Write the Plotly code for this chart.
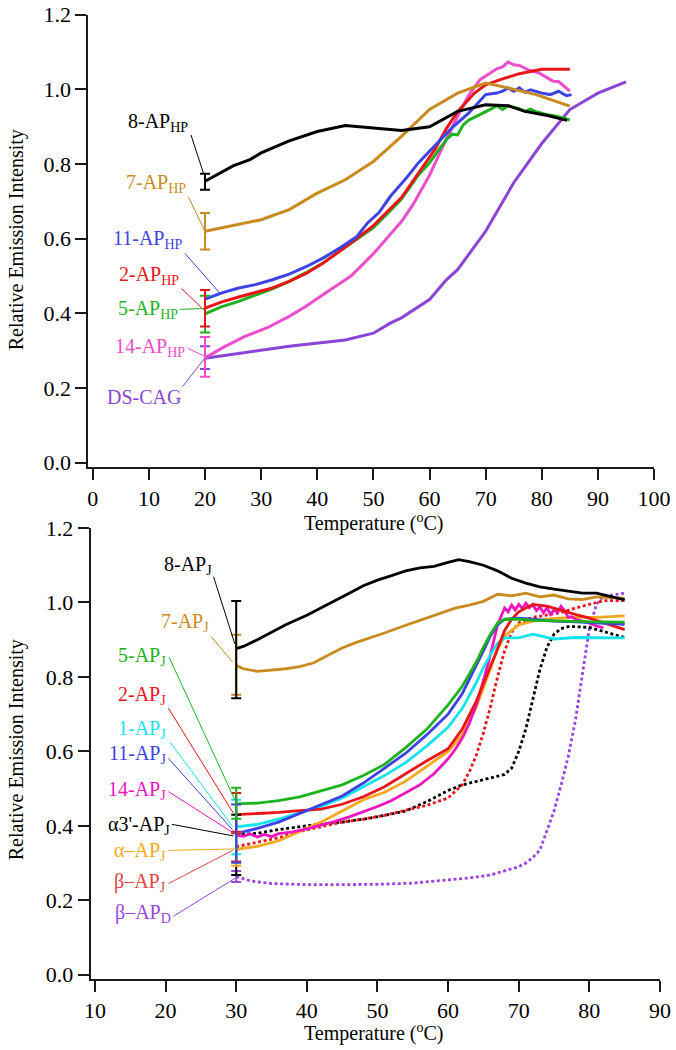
import plotly.graph_objects as go

# ---------------- Top panel data (hairpins) ----------------
t_8hp = [20, 25, 28, 30, 35, 40, 45, 50, 55, 60, 65, 70, 74, 77, 81, 84.5]
v_8hp = [0.754, 0.795, 0.812, 0.83, 0.862, 0.887, 0.903, 0.897, 0.89, 0.90, 0.941, 0.959, 0.956, 0.941, 0.93, 0.917]

t_7hp = [20, 25, 30, 35, 40, 45, 50, 55, 60, 65, 70, 74, 79, 85]
v_7hp = [0.62, 0.636, 0.651, 0.678, 0.722, 0.758, 0.807, 0.874, 0.946, 0.99, 1.017, 1.004, 0.986, 0.955]

t_dscag = [20, 35, 45, 50, 53, 55, 60, 63, 65, 70, 75, 80, 85, 90, 95]
v_dscag = [0.28, 0.312, 0.329, 0.347, 0.374, 0.388, 0.437, 0.49, 0.517, 0.62, 0.75, 0.855, 0.946, 0.99, 1.02]

t_2hp = [20, 23, 26, 29, 32, 35, 38, 41, 44, 47, 50, 53, 55, 58, 61, 63, 65, 68, 70, 73, 76, 80, 85]
v_2hp = [0.414, 0.431, 0.444, 0.455, 0.468, 0.486, 0.507, 0.534, 0.566, 0.60, 0.635, 0.68, 0.71, 0.775, 0.84, 0.895, 0.94, 0.99, 1.012, 1.028, 1.042, 1.054, 1.054]

t_5hp = [20, 23, 26, 29, 32, 35, 38, 41, 44, 47, 50, 53, 55, 58, 60, 62, 63, 64, 65, 66, 67, 68, 69, 70, 71, 72, 73, 74, 75, 76, 77, 78, 79, 80, 81, 82, 83, 85]
v_5hp = [0.399, 0.418, 0.432, 0.448, 0.466, 0.486, 0.509, 0.535, 0.566, 0.598, 0.63, 0.675, 0.706, 0.77, 0.803, 0.845, 0.865, 0.88, 0.878, 0.905, 0.918, 0.925, 0.932, 0.94, 0.948, 0.956, 0.946, 0.956, 0.952, 0.948, 0.941, 0.947, 0.94, 0.935, 0.932, 0.93, 0.927, 0.918]

t_11hp = [20, 23, 26, 29, 32, 35, 38, 41, 44, 47, 49, 51, 53, 56, 58, 61, 64, 67, 70, 72, 73, 74, 75, 76, 77, 78, 80, 81.5, 83, 84.4, 85.3]
v_11hp = [0.438, 0.455, 0.468, 0.477, 0.49, 0.505, 0.525, 0.548, 0.575, 0.605, 0.643, 0.67, 0.713, 0.765, 0.803, 0.85, 0.897, 0.937, 0.986, 0.99, 0.995, 1.004, 0.995, 1.004, 0.992, 0.999, 0.99, 0.986, 0.995, 0.983, 0.986]

t_14hp = [20, 23, 27, 31, 35, 38, 41, 44, 46, 50, 53, 55, 57, 60, 62, 65, 67, 69, 72, 73, 74, 75, 76, 77.5, 79.5, 81, 82, 83, 85]
v_14hp = [0.281, 0.307, 0.338, 0.361, 0.392, 0.419, 0.45, 0.48, 0.50, 0.56, 0.611, 0.646, 0.69, 0.77, 0.835, 0.928, 0.985, 1.026, 1.055, 1.06, 1.073, 1.066, 1.064, 1.053, 1.044, 1.03, 1.022, 1.021, 0.995]

# ---------------- Bottom panel data (junctions) ----------------
t_8j = [30, 31, 33, 35, 37, 40, 42, 44, 46, 48, 50, 52, 54, 56, 58, 60, 61.5, 63, 65, 67, 69, 71, 73, 75, 77, 79, 81, 83, 85]
v_8j = [0.876, 0.882, 0.90, 0.92, 0.94, 0.966, 0.985, 1.005, 1.025, 1.045, 1.06, 1.072, 1.085, 1.093, 1.097, 1.108, 1.115, 1.11, 1.10, 1.085, 1.065, 1.052, 1.042, 1.036, 1.03, 1.025, 1.025, 1.015, 1.007]

t_7j = [30, 31, 33, 35, 37, 39, 41, 43, 45, 47, 49, 51, 53, 55, 57, 59, 61, 63, 65, 67, 69, 71, 73, 75, 77, 79, 81, 83, 85]
v_7j = [0.831, 0.822, 0.815, 0.818, 0.822, 0.828, 0.838, 0.858, 0.878, 0.893, 0.905, 0.918, 0.932, 0.945, 0.958, 0.972, 0.985, 0.993, 1.003, 1.022, 1.018, 1.025, 1.015, 1.02, 1.01, 1.008, 1.015, 1.013, 1.012]

t_5j = [30, 33, 36, 39, 42, 45, 48, 51, 54, 57, 60, 62, 64, 65, 66, 67, 68, 70, 72, 75, 78, 81, 85]
v_5j = [0.459, 0.461, 0.468, 0.478, 0.494, 0.51, 0.535, 0.565, 0.61, 0.66, 0.725, 0.775, 0.84, 0.88, 0.915, 0.945, 0.955, 0.955, 0.952, 0.95, 0.948, 0.948, 0.947]

t_11j = [30, 33, 36, 39, 42, 45, 48, 51, 54, 57, 60, 62, 64, 65, 66, 67, 68, 70, 72, 75, 78, 81, 85]
v_11j = [0.379, 0.393, 0.41, 0.433, 0.455, 0.48, 0.515, 0.555, 0.595, 0.645, 0.70, 0.755, 0.83, 0.87, 0.91, 0.94, 0.955, 0.958, 0.955, 0.95, 0.948, 0.945, 0.941]

t_1j = [30, 33, 36, 39, 42, 45, 48, 51, 54, 57, 60, 62, 64, 65, 66, 67, 68, 70, 72, 74, 75, 78, 81, 85]
v_1j = [0.397, 0.404, 0.418, 0.434, 0.452, 0.475, 0.505, 0.535, 0.57, 0.615, 0.665, 0.715, 0.785, 0.825, 0.86, 0.89, 0.905, 0.905, 0.915, 0.905, 0.902, 0.906, 0.906, 0.905]

t_2j = [30, 33, 36, 39, 42, 45, 48, 51, 54, 57, 60, 62, 64, 65, 66, 67, 68, 69, 70, 72, 74, 76, 78, 80, 82, 85]
v_2j = [0.43, 0.432, 0.436, 0.441, 0.445, 0.458, 0.478, 0.505, 0.54, 0.575, 0.607, 0.66, 0.735, 0.78, 0.83, 0.875, 0.925, 0.955, 0.975, 0.995, 0.99, 0.978, 0.968, 0.958, 0.945, 0.927]

t_aj = [30, 33, 36, 39, 42, 45, 48, 51, 54, 57, 60, 62, 64, 65, 66, 67, 68, 70, 72, 75, 78, 81, 85]
v_aj = [0.337, 0.345, 0.36, 0.386, 0.41, 0.44, 0.47, 0.49, 0.52, 0.56, 0.60, 0.645, 0.72, 0.77, 0.82, 0.875, 0.91, 0.94, 0.95, 0.957, 0.96, 0.96, 0.964]

t_14j = [30, 31, 32, 33, 34, 35, 36, 38, 40, 42, 44, 46, 48, 50, 52, 54, 56, 58, 60, 61, 62, 63, 64, 65, 66, 67, 67.5, 68, 68.5, 69, 69.5, 70, 70.5, 71, 71.5, 72, 72.5, 73, 73.5, 74, 74.5, 75, 75.5, 76, 76.5, 77, 77.5, 78, 79, 80, 81, 82]
v_14j = [0.376, 0.372, 0.378, 0.37, 0.377, 0.371, 0.379, 0.384, 0.392, 0.401, 0.412, 0.424, 0.437, 0.452, 0.468, 0.488, 0.51, 0.54, 0.58, 0.605, 0.635, 0.675, 0.725, 0.79, 0.86, 0.94, 0.965, 0.985, 0.975, 0.993, 0.98, 0.995, 0.984, 0.998, 0.986, 0.994, 0.978, 0.989, 0.972, 0.986, 0.968, 0.98, 0.972, 0.99, 0.978, 0.96, 0.962, 0.955, 0.95, 0.945, 0.937, 0.932]

t_a3j = [30, 33, 36, 39, 42, 45, 48, 51, 54, 57, 60, 62, 64, 66, 68, 69, 70, 71, 72, 73, 74, 75, 76, 77, 78, 80, 82, 85]
v_a3j = [0.376, 0.38, 0.39, 0.398, 0.405, 0.41, 0.418, 0.428, 0.44, 0.465, 0.495, 0.51, 0.52, 0.528, 0.538, 0.555, 0.60, 0.66, 0.74, 0.82, 0.88, 0.915, 0.93, 0.935, 0.935, 0.933, 0.922, 0.906]

t_bj = [30, 33, 36, 39, 42, 45, 48, 51, 54, 57, 60, 62, 63, 64, 65, 66, 67, 68, 69, 70, 72, 74, 76, 78, 80, 82, 85]
v_bj = [0.344, 0.356, 0.368, 0.385, 0.398, 0.41, 0.418, 0.428, 0.442, 0.455, 0.475, 0.51, 0.545, 0.59, 0.65, 0.72, 0.80, 0.87, 0.92, 0.945, 0.96, 0.967, 0.973, 0.985, 0.995, 1.005, 1.005]

t_bd = [30, 32, 35, 40, 45, 50, 55, 60, 63, 66, 68, 70, 71, 72, 73, 74, 75, 76, 77, 78, 79, 80, 81, 82, 85]
v_bd = [0.264, 0.252, 0.245, 0.242, 0.242, 0.243, 0.246, 0.254, 0.26, 0.268, 0.278, 0.29, 0.30, 0.315, 0.335, 0.385, 0.44, 0.51, 0.585, 0.68, 0.80, 0.93, 0.995, 1.017, 1.025]

# error bar half-widths (plus, minus) at the first point of each series
err_top = {"8hp": (0.02, 0.023), "7hp": (0.049, 0.049), "2hp": (0.049, 0.049),
           "5hp": (0.048, 0.05), "14hp": (0.056, 0.051), "dscag": (0.032, 0.029)}
err_bot = {"8j": (0.128, 0.133), "7j": (0.082, 0.079), "5j": (0.043, 0.04),
           "2j": (0.058, 0.05), "1j": (0.073, 0.073), "11j": (0.078, 0.078),
           "a3j": (0.054, 0.108), "aj": (0.044, 0.044), "bj": (0.04, 0.04),
           "bd": (0.015, 0.015)}

BLACK = "#000000"
GOLD = "#C98A1E"
BLUE = "#3B43E4"
RED = "#E8161B"
GREEN = "#1EB31E"
PINK = "#EE4DCB"
PURPLE = "#8A45D6"
CYAN = "#17E3EE"
MAGENTA = "#F014C0"
ORANGE = "#F5A81E"
LRED = "#E04444"
VIOLET = "#9B45E0"

FONT = "Liberation Serif"

fig = go.Figure()

def line(t, v, color, xa, ya, dash=None, width=3.0):
    fig.add_trace(go.Scatter(x=t, y=v, mode="lines", xaxis=xa, yaxis=ya,
                             line=dict(color=color, width=width, dash=dash),
                             showlegend=False, hoverinfo="skip"))

def ebar(t, v, e, color, xa, ya):
    fig.add_trace(go.Scatter(x=[t[0]], y=[v[0]], mode="markers", xaxis=xa, yaxis=ya,
                             marker=dict(size=1, color=color),
                             error_y=dict(type="data", symmetric=False, array=[e[0]],
                                          arrayminus=[e[1]], color=color, thickness=2, width=5),
                             showlegend=False, hoverinfo="skip"))

# top panel
top = [("dscag", t_dscag, v_dscag, PURPLE), ("14hp", t_14hp, v_14hp, PINK),
       ("5hp", t_5hp, v_5hp, GREEN), ("2hp", t_2hp, v_2hp, RED),
       ("11hp", t_11hp, v_11hp, BLUE), ("7hp", t_7hp, v_7hp, GOLD),
       ("8hp", t_8hp, v_8hp, BLACK)]
for key, t, v, c in top:
    line(t, v, c, "x", "y")
for key, t, v, c in top:
    if key in err_top:
        ebar(t, v, err_top[key], c, "x", "y")

# bottom panel
DOT = "3px,2.6px"
bot = [("bd", t_bd, v_bd, VIOLET, DOT), ("a3j", t_a3j, v_a3j, BLACK, DOT),
       ("bj", t_bj, v_bj, RED, DOT), ("aj", t_aj, v_aj, ORANGE, None),
       ("14j", t_14j, v_14j, MAGENTA, None), ("1j", t_1j, v_1j, CYAN, None),
       ("2j", t_2j, v_2j, RED, None), ("11j", t_11j, v_11j, BLUE, None),
       ("5j", t_5j, v_5j, GREEN, None), ("7j", t_7j, v_7j, GOLD, None),
       ("8j", t_8j, v_8j, BLACK, None)]
for key, t, v, c, d in bot:
    line(t, v, c, "x2", "y2", dash=d, width=2.8)
ecol = {"bd": VIOLET, "a3j": BLACK, "bj": RED, "aj": ORANGE, "1j": CYAN, "2j": RED,
        "11j": BLUE, "5j": GREEN, "7j": GOLD, "8j": BLACK}
for key, t, v, c, d in bot:
    if key in err_bot:
        ebar(t, v, err_bot[key], ecol[key], "x2", "y2")

# labels: (text, x_right, y_center, color, leader from (x0,y0) to (x1,y1))
labels_top = [
    ("8-AP<sub>HP</sub>", 17.3, 0.913, BLACK, (17.5, 0.878, 19.8, 0.772)),
    ("7-AP<sub>HP</sub>", 17.0, 0.750, GOLD, (17.0, 0.713, 19.9, 0.623)),
    ("11-AP<sub>HP</sub>", 16.4, 0.601, BLUE, (16.4, 0.561, 22.6, 0.455)),
    ("2-AP<sub>HP</sub>", 15.8, 0.505, RED, (15.8, 0.467, 19.8, 0.409)),
    ("5-AP<sub>HP</sub>", 15.5, 0.413, GREEN, (15.5, 0.411, 19.8, 0.413)),
    ("14-AP<sub>HP</sub>", 16.8, 0.3125, PINK, (17.0, 0.306, 19.8, 0.286)),
    ("DS-CAG", 16.1, 0.179, PURPLE, (16.0, 0.204, 19.9, 0.279)),
]
labels_bot = [
    ("8-AP<sub>J</sub>", 26.9, 1.102, BLACK, (26.8, 1.069, 29.8, 0.889)),
    ("7-AP<sub>J</sub>", 26.5, 0.950, GOLD, (26.5, 0.907, 29.5, 0.840)),
    ("5-AP<sub>J</sub>", 20.4, 0.858, GREEN, (20.5, 0.853, 29.8, 0.470)),
    ("2-AP<sub>J</sub>", 20.4, 0.752, RED, (20.4, 0.716, 29.6, 0.434)),
    ("1-AP<sub>J</sub>", 20.4, 0.662, CYAN, (20.6, 0.626, 29.5, 0.398)),
    ("11-AP<sub>J</sub>", 20.4, 0.595, BLUE, (20.4, 0.581, 29.5, 0.389)),
    ("14-AP<sub>J</sub>", 20.4, 0.498, MAGENTA, (20.4, 0.492, 29.5, 0.382)),
    ("α3'-AP<sub>J</sub>", 20.9, 0.403, BLACK, (20.9, 0.404, 29.6, 0.373)),
    ("α–AP<sub>J</sub>", 20.4, 0.334, ORANGE, (20.4, 0.334, 30.0, 0.338)),
    ("β–AP<sub>J</sub>", 20.4, 0.251, LRED, (20.4, 0.245, 29.5, 0.334)),
    ("β–AP<sub>D</sub>", 21.1, 0.166, VIOLET, (21.1, 0.157, 29.9, 0.260)),
]

annotations = []
shapes = []
for labs, xr, yr in ((labels_top, "x", "y"), (labels_bot, "x2", "y2")):
    for text, xp, yp, c, (x0, y0, x1, y1) in labs:
        annotations.append(dict(text=text, x=xp, y=yp, xref=xr, yref=yr, xanchor="right",
                                yanchor="middle", yshift=-1, showarrow=False,
                                font=dict(family=FONT, size=20, color=c)))
        shapes.append(dict(type="line", x0=x0, y0=y0, x1=x1, y1=y1, xref=xr, yref=yr,
                           line=dict(color=c, width=1)))

# axis titles
for ty in (0.5025, 0.0165):
    annotations.append(dict(text="Temperature (<sup>o</sup>C)", x=0.552, y=ty, xref="paper",
                            yref="paper", showarrow=False, xanchor="center", yanchor="middle",
                            font=dict(family=FONT, size=20, color="black")))
for ty in (0.7714, 0.2857):
    annotations.append(dict(text="Relative Emission Intensity", x=0.024, y=ty, xref="paper",
                            yref="paper", showarrow=False, textangle=-90, xanchor="center",
                            yanchor="middle", font=dict(family=FONT, size=20, color="black")))

axis_common = dict(showline=True, linecolor="#1a1a1a", linewidth=2, ticks="outside",
                   ticklen=11, tickwidth=2, tickcolor="#1a1a1a", showgrid=False,
                   zeroline=False, automargin=False,
                   tickfont=dict(family=FONT, size=22, color="black"))

fig.update_layout(
    width=676, height=1050, autosize=False,
    margin=dict(l=0, r=0, t=0, b=0, pad=0, autoexpand=False),
    paper_bgcolor="white", plot_bgcolor="white",
    showlegend=False,
    xaxis=dict(domain=[0.1306, 0.9675], range=[-0.8, 100], anchor="y",
               tick0=0, dtick=10, **axis_common),
    yaxis=dict(domain=[0.5552, 0.986], range=[-0.0115, 1.2], anchor="x",
               tick0=0, dtick=0.2, tickformat=".1f", **axis_common),
    xaxis2=dict(domain=[0.1342, 0.9763], range=[9.4, 90], anchor="y2",
                tick0=0, dtick=10, **axis_common),
    yaxis2=dict(domain=[0.0676, 0.4971], range=[-0.0115, 1.2], anchor="x2",
                tick0=0, dtick=0.2, tickformat=".1f", **axis_common),
    annotations=annotations,
    shapes=shapes,
)

fig.write_html("out.html", config={"displayModeBar": False},
               post_script=("document.body.style.margin='0px';"
                            "document.body.style.overflow='hidden';"))
